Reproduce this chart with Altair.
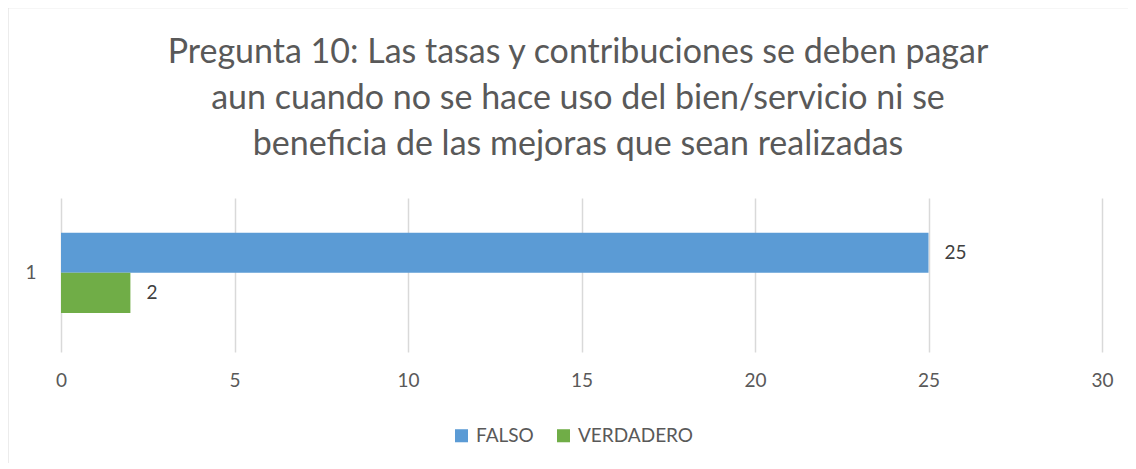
import altair as alt
import pandas as pd

series = ["FALSO", "VERDADERO"]
values = [25, 2]
category = ["1", "1"]
colors = ["#5B9BD5", "#70AD47"]
title_lines = [
    "Pregunta 10: Las tasas y contribuciones se deben pagar",
    "aun cuando no se hace uso del bien/servicio ni se",
    "beneficia de las mejoras que sean realizadas",
]
x_ticks = [0, 5, 10, 15, 20, 25, 30]

df = pd.DataFrame({"cat": category, "serie": series, "valor": values})
FONT = "Lato"

base = alt.Chart(df)

bars = base.mark_bar().encode(
    x=alt.X("valor:Q", scale=alt.Scale(domain=[0, 30]),
            axis=alt.Axis(values=x_ticks, title=None, grid=True, gridColor="#d9d9d9",
                          gridWidth=1.5, domain=False, ticks=False, labelFontSize=19,
                          labelColor="#595959", labelPadding=19, labelFont=FONT,
                          labelFlush=False)),
    y=alt.Y("cat:N", scale=alt.Scale(paddingInner=0, paddingOuter=0.46, align=0.47),
            axis=alt.Axis(title=None, domain=False, ticks=False, grid=False, labelFontSize=19,
                          labelColor="#595959", labelPadding=25, labelFont=FONT)),
    yOffset=alt.YOffset("serie:N", sort=series, scale=alt.Scale(paddingInner=0, paddingOuter=0)),
    color=alt.Color("serie:N", sort=series,
                    scale=alt.Scale(domain=series, range=colors),
                    legend=alt.Legend(title=None, orient="none", direction="horizontal",
                                      legendX=391, legendY=228,
                                      symbolType="square", symbolSize=170,
                                      symbolStrokeWidth=0, labelFontSize=19,
                                      labelColor="#595959", labelFont=FONT,
                                      labelOffset=5, columnPadding=20)),
)

labels = base.mark_text(align="left", baseline="middle", dx=16, fontSize=19,
                        color="#404040", font=FONT).encode(
    x="valor:Q",
    y="cat:N",
    yOffset=alt.YOffset("serie:N", sort=series),
    text="valor:Q",
)

title = alt.Chart(pd.DataFrame({"t": ["\n".join(title_lines)]})).mark_text(
    align="center", baseline="alphabetic", fontSize=34, font=FONT, color="#595959",
    lineHeight=46, lineBreak="\n").encode(
    x=alt.value(517), y=alt.value(-135), text="t:N")

frame_left = alt.Chart(pd.DataFrame({"a": [0]})).mark_rule(color="#d9d9d9", strokeWidth=2).encode(
    x=alt.value(-53.5), y=alt.value(-191), y2=alt.value(270))
frame_top = alt.Chart(pd.DataFrame({"a": [0]})).mark_rule(color="#d9d9d9", strokeWidth=1.5).encode(
    x=alt.value(-54), x2=alt.value(1080), y=alt.value(-190.5))

chart = alt.layer(bars, labels, title, frame_left, frame_top).properties(
    width=1041,
    height=154,
    autosize=alt.AutoSizeParams(type="none"),
    padding={"left": 53, "top": 190, "right": 26, "bottom": 111},
).configure(background="white").configure_view(stroke=None)

chart.save("out.html", embed_options={"renderer": "svg", "actions": False})
